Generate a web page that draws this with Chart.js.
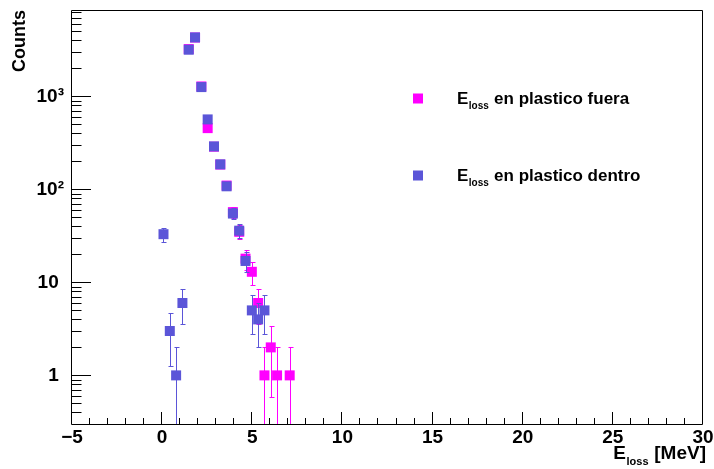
<!DOCTYPE html>
<html><head><meta charset="utf-8">
<script src="https://cdn.jsdelivr.net/npm/chart.js@4"></script>
<style>html,body{margin:0;padding:0;background:#fff}#wrap{width:714px;height:469px}</style>
</head><body><div id="wrap"><canvas id="c" width="714" height="469"></canvas></div>
<script>
// ---- data (bin centres in MeV, counts) ----
const fueraE      = [1.475, 1.825, 2.175, 2.525, 2.875, 3.225, 3.575, 3.925, 4.275, 4.625, 4.975, 5.325, 5.675, 6.025, 6.375, 7.075];
const fueraCounts = [3230, 4300, 1280, 456, 288, 185, 110, 57, 35, 18, 13, 6, 1, 2, 1, 1];
const dentroE      = [0.075, 0.425, 0.775, 1.125, 1.475, 1.825, 2.175, 2.525, 2.875, 3.225, 3.575, 3.925, 4.275, 4.625, 4.975, 5.325, 5.675];
const dentroCounts = [33, 3, 1, 6, 3180, 4310, 1260, 566, 290, 186, 108, 55, 36, 17, 5, 4, 5];

const xTickValues = [-5, 0, 5, 10, 15, 20, 25, 30];
const xTickLabels = ['\u22125', '0', '5', '10', '15', '20', '25', '30'];
const yTickValues = [1, 10, 100, 1000];
const yTickLabels = ['1\u2008', '10\u2008', '10\u00b2', '10\u00b3'];

const legendLabels = [['E', 'loss', ' en plastico fuera'], ['E', 'loss', ' en plastico dentro']];
const xTitleParts = ['E', 'loss', ' [MeV]'];
const yTitle = 'Counts';

const colFuera = '#ff00ff';
const colDentro = '#5b55d8';
const FONT = '"Liberation Sans", Arial, Helvetica, sans-serif';

const toPoints = (xs, ys) => xs.map((x, i) => ({ x: x, y: ys[i] }));

// error bars (sqrt N) drawn under each dataset's markers
const errorBars = {
  id: 'errorBars',
  beforeDatasetDraw(chart, args) {
    const ds = chart.data.datasets[args.index];
    const xs = chart.scales.x, ys = chart.scales.y;
    const ctx = chart.ctx, a = chart.chartArea;
    ctx.save();
    ctx.beginPath();
    ctx.rect(a.left, a.top, a.right - a.left, a.bottom - a.top);
    ctx.clip();
    ctx.strokeStyle = ds.backgroundColor;
    ctx.lineWidth = 1;
    ds.data.forEach(p => {
      const e = Math.sqrt(p.y);
      const px = Math.round(xs.getPixelForValue(p.x)) + 0.5;
      const hi = Math.round(ys.getPixelForValue(p.y + e)) + 0.5;
      const lo = (p.y - e) > 0 ? Math.round(ys.getPixelForValue(p.y - e)) + 0.5 : a.bottom + 5;
      ctx.beginPath();
      ctx.moveTo(px, hi); ctx.lineTo(px, lo);
      ctx.moveTo(px - 2, hi); ctx.lineTo(px + 3, hi);
      if ((p.y - e) > 0) { ctx.moveTo(px - 2, lo); ctx.lineTo(px + 3, lo); }
      ctx.stroke();
    });
    ctx.restore();
  }
};

function drawSub(ctx, parts, x, y, big, small, align) {
  ctx.font = 'bold ' + big + 'px ' + FONT;
  const w0 = ctx.measureText(parts[0]).width;
  const w2 = ctx.measureText(parts[2]).width;
  ctx.font = 'bold ' + small + 'px ' + FONT;
  const w1 = ctx.measureText(parts[1]).width;
  let sx = align === 'right' ? x - (w0 + w1 + w2 + 1) : x;
  ctx.textBaseline = 'alphabetic';
  ctx.textAlign = 'left';
  ctx.font = 'bold ' + big + 'px ' + FONT;
  ctx.fillText(parts[0], sx, y);
  ctx.font = 'bold ' + small + 'px ' + FONT;
  ctx.fillText(parts[1], sx + w0 + 0.5, y + big * 0.3);
  ctx.font = 'bold ' + big + 'px ' + FONT;
  ctx.fillText(parts[2], sx + w0 + w1 + 1, y);
}

const rootFrame = {
  id: 'rootFrame',
  afterDatasetsDraw(chart) {
    const ctx = chart.ctx, a = chart.chartArea;
    const xs = chart.scales.x, ys = chart.scales.y;
    ctx.save();
    ctx.strokeStyle = '#000';
    ctx.lineWidth = 1;
    ctx.beginPath();
    ctx.rect(a.left - 0.5, a.top + 0.5, a.right - a.left, a.bottom - a.top);
    ctx.stroke();
    ctx.beginPath();
    for (let v = xs.min; v <= xs.max; v += 1) {
      const px = Math.round(xs.getPixelForValue(v)) - 0.5;
      const len = (v % 5 === 0) ? 12 : 6;
      ctx.moveTo(px, a.bottom); ctx.lineTo(px, a.bottom - len);
    }
    for (let d = -1; d <= 4; d++) {
      for (let m = 1; m <= 9; m++) {
        const v = m * Math.pow(10, d);
        if (v < ys.min || v > ys.max) continue;
        const py = Math.round(ys.getPixelForValue(v)) + 0.5;
        const len = m === 1 ? 19 : 9.5;
        ctx.moveTo(a.left, py); ctx.lineTo(a.left + len, py);
      }
    }
    ctx.stroke();
    ctx.restore();
  },
  afterDraw(chart) {
    const ctx = chart.ctx;
    ctx.save();
    ctx.fillStyle = '#000';
    drawSub(ctx, xTitleParts, 706, 459, 19, 11, 'right');
    const lx = 418, ly = [98.5, 175.5], cols = [colFuera, colDentro];
    legendLabels.forEach((parts, i) => {
      ctx.fillStyle = cols[i];
      ctx.fillRect(lx - 5, ly[i] - 5, 10, 10);
      ctx.fillStyle = '#000';
      drawSub(ctx, parts, 457, ly[i] + 5.5, 17, 10, 'left');
    });
    ctx.restore();
  }
};

const zeroPad = s => { s.paddingTop = 0; s.paddingBottom = 0; s.paddingLeft = 0; s.paddingRight = 0; };

new Chart(document.getElementById('c'), {
  type: 'scatter',
  data: {
    datasets: [
      { label: 'E_loss en plastico fuera', data: toPoints(fueraE, fueraCounts), order: 2,
        backgroundColor: colFuera, pointStyle: 'rect', pointRadius: 7.07, pointBorderWidth: 0, borderWidth: 0 },
      { label: 'E_loss en plastico dentro', data: toPoints(dentroE, dentroCounts), order: 1,
        backgroundColor: colDentro, pointStyle: 'rect', pointRadius: 7.07, pointBorderWidth: 0, borderWidth: 0 }
    ]
  },
  options: {
    responsive: false,
    animation: false,
    layout: { padding: { top: 10, right: 11, left: 0, bottom: 0 } },
    plugins: { legend: { display: false }, tooltip: { enabled: false } },
    scales: {
      x: {
        type: 'linear', min: -5, max: 30,
        grid: { display: false, drawTicks: false },
        border: { display: false },
        afterBuildTicks: s => { s.ticks = xTickValues.map(v => ({ value: v })); },
        afterFit: s => { s.height = 45; zeroPad(s); },
        ticks: { autoSkip: false, maxRotation: 0, padding: 2, color: '#000',
                 font: { family: FONT, size: 19, weight: 'bold' },
                 callback: (v, i) => xTickLabels[i] }
      },
      y: {
        type: 'logarithmic', min: 0.3, max: 8500,
        grid: { display: false, drawTicks: false },
        border: { display: false },
        afterBuildTicks: s => { s.ticks = yTickValues.map(v => ({ value: v })); },
        afterFit: s => { s.width = 72; zeroPad(s); },
        ticks: { autoSkip: false, padding: 8, color: '#000',
                 font: { family: FONT, size: 19, weight: 'bold' },
                 callback: (v, i) => yTickLabels[i] },
        title: { display: true, text: yTitle, align: 'end', color: '#000',
                 font: { family: FONT, size: 18, weight: 'bold' },
                 padding: { top: 9, bottom: 0 } }
      }
    }
  },
  plugins: [errorBars, rootFrame]
});
</script>
</body></html>
